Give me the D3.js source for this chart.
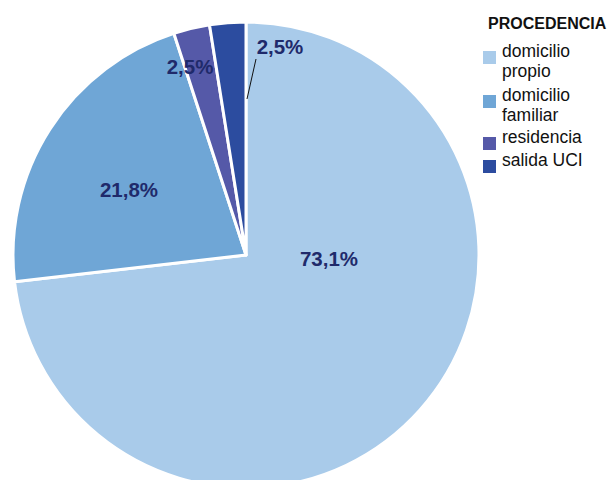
<!DOCTYPE html>
<html>
<head>
<meta charset="utf-8">
<script src="https://cdn.jsdelivr.net/npm/d3@7"></script>
<style>
  body { margin: 0; background: #fff; }
  svg { display: block; font-family: "Liberation Sans", Arial, sans-serif; }
</style>
</head>
<body>
<svg id="chart" width="611" height="480"></svg>
<script>
// Data
var categories = ["domicilio propio", "domicilio familiar", "residencia", "salida UCI"];
var values = [73.1, 21.8, 2.5, 2.5];
var labels = ["73,1%", "21,8%", "2,5%", "2,5%"];
var legendLines = [["domicilio", "propio"], ["domicilio", "familiar"], ["residencia"], ["salida UCI"]];
var colors = ["#a9cbea", "#6fa6d6", "#5559a8", "#2c4c9f"];

var svg = d3.select("#chart");
var cx = 246, cy = 255, radius = 233;

var pie = d3.pie().sort(null).value(function(d) { return d; });
var arcs = pie(values);
var arc = d3.arc().innerRadius(0).outerRadius(radius);

var g = svg.append("g").attr("transform", "translate(" + cx + "," + cy + ")");

g.selectAll("path.slice")
  .data(arcs)
  .enter().append("path")
  .attr("class", "slice")
  .attr("d", arc)
  .attr("fill", function(d, i) { return colors[i]; })
  .attr("stroke", "#fff")
  .attr("stroke-width", 3)
  .attr("stroke-linejoin", "round");

// label spots, offsets from the pie centre
var labelPos = [[83, 4], [-117, -65], [-56, -188], [34, -208]];

// leader line for the small last slice
g.append("line")
  .attr("x1", 1).attr("y1", -156)
  .attr("x2", 10).attr("y2", -196)
  .attr("stroke", "#111")
  .attr("stroke-width", 1);

g.selectAll("text.lbl")
  .data(arcs)
  .enter().append("text")
  .attr("class", "lbl")
  .attr("x", function(d, i) { return labelPos[i][0]; })
  .attr("y", function(d, i) { return labelPos[i][1]; })
  .attr("text-anchor", "middle")
  .attr("dy", "0.36em")
  .attr("fill", "#1f2a6b")
  .attr("font-weight", "bold")
  .attr("font-size", 20.5)
  .text(function(d, i) { return labels[i]; });

// Legend
var legend = svg.append("g").attr("transform", "translate(483,0)");
legend.append("text")
  .attr("x", 5).attr("y", 29)
  .attr("font-size", 16)
  .attr("font-weight", "bold")
  .attr("fill", "#111")
  .text("PROCEDENCIA");

var itemY = [57, 101, 143, 166];
var item = legend.selectAll("g.item")
  .data(categories)
  .enter().append("g")
  .attr("class", "item")
  .attr("transform", function(d, i) { return "translate(0," + itemY[i] + ")"; });

item.append("rect")
  .attr("x", 0).attr("y", -6)
  .attr("width", 13).attr("height", 13)
  .attr("fill", function(d, i) { return colors[i]; });

item.append("text")
  .attr("font-size", 17.5)
  .attr("fill", "#111")
  .selectAll("tspan")
  .data(function(d, i) { return legendLines[i]; })
  .enter().append("tspan")
  .attr("x", 19)
  .attr("y", function(d, j) { return j * 19.5; })
  .text(function(d) { return d; });
</script>
</body>
</html>
